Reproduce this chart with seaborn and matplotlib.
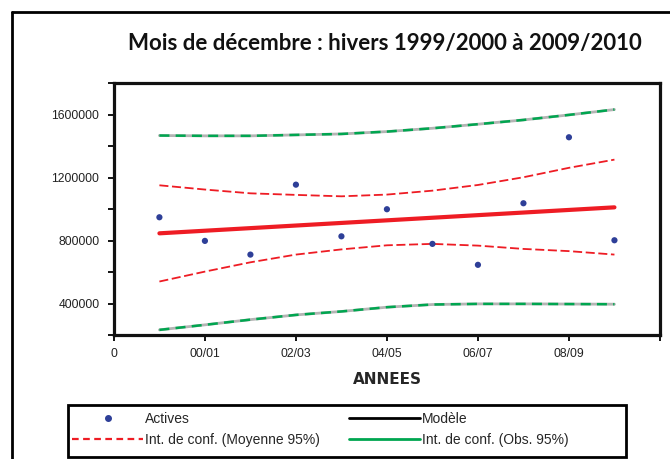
import numpy as np
import pandas as pd
import seaborn as sns
import matplotlib.pyplot as plt
from matplotlib.lines import Line2D
from matplotlib.patches import Rectangle

# winters 1999/2000 .. 2009/2010 -> positions 1..11
hiver = [1, 2, 3, 4, 5, 6, 7, 8, 9, 10, 11]
actives = [948000, 798000, 711000, 1155000, 827000, 999000, 779000, 646000, 1037000, 1456000, 802000]
modele = [846000, 862500, 879000, 895500, 912000, 928500, 945000, 961500, 978000, 994500, 1011000]
moy_haut = [1151000, 1124000, 1100000, 1090000, 1081000, 1092000, 1117000, 1153000, 1202000, 1262000, 1314000]
moy_bas = [540000, 603000, 662000, 711000, 744000, 770000, 779000, 768000, 747000, 733000, 711000]
obs_haut = [1467000, 1465000, 1465000, 1471000, 1477000, 1492000, 1513000, 1539000, 1566000, 1598000, 1632000]
obs_bas = [233000, 265000, 298000, 328000, 350000, 377000, 394000, 398000, 398000, 397000, 396000]

xticks = [0, 2, 4, 6, 8, 10, 12]
xlabels = ["0", "00/01", "02/03", "04/05", "06/07", "08/09", ""]

df = pd.DataFrame({"hiver": hiver, "actives": actives, "modele": modele,
                   "moy_haut": moy_haut, "moy_bas": moy_bas,
                   "obs_haut": obs_haut, "obs_bas": obs_bas})

sns.set_style("white")
plt.rcParams["font.family"] = ["Liberation Sans", "DejaVu Sans"]

rouge = "#ee1c24"
vert = "#00a650"
bleu = "#2e3f98"

fig = plt.figure(figsize=(6.7, 4.59), dpi=100)
ax = fig.add_axes([0.170, 0.270, 0.815, 0.549])

# obs 95% : grey line under green dashes
for col in ["obs_haut", "obs_bas"]:
    sns.lineplot(data=df, x="hiver", y=col, ax=ax, color="#b4b4b4", lw=2.0)
    sns.lineplot(data=df, x="hiver", y=col, ax=ax, color=vert, lw=1.8,
                 linestyle=(0, (4, 2.5)))
for col in ["moy_haut", "moy_bas"]:
    sns.lineplot(data=df, x="hiver", y=col, ax=ax, color=rouge, lw=1.3,
                 linestyle=(0, (5, 2)))
sns.lineplot(data=df, x="hiver", y="modele", ax=ax, color=rouge, lw=3.0)
sns.scatterplot(data=df, x="hiver", y="actives", ax=ax, color=bleu, s=20,
                edgecolor="none", zorder=5)

ax.set_xlim(0, 12)
ax.set_ylim(200000, 1800000)
ax.set_xticks(xticks)
ax.set_xticklabels(xlabels)
ax.set_yticks(np.arange(200000, 1800001, 200000))
ax.set_yticklabels(["" if v % 400000 else str(v) for v in range(200000, 1800001, 200000)])
ax.tick_params(axis="both", direction="out", length=4, width=1.3, color="black",
               labelsize=8.7, labelcolor="#222222", left=True, bottom=True)
ax.tick_params(axis="y", pad=6.5)
ax.tick_params(axis="x", pad=5)
for s in ax.spines.values():
    s.set_visible(True)
    s.set_color("#111111")
    s.set_linewidth(2.3)
ax.set_xlabel("ANNEES", fontsize=11, fontweight="bold", labelpad=9,
              family=["DejaVu Sans"])
ax.set_ylabel("")

fig.text(0.575, 0.906, "Mois de décembre : hivers 1999/2000 à 2009/2010",
         ha="center", va="center", fontsize=16, fontweight="bold",
         family=["Lato", "DejaVu Sans"], color="#111111")

# outer frame (left and top only visible)
fig.add_artist(Line2D([12 / 670, 12 / 670], [0, 1 - 12 / 459], transform=fig.transFigure,
                      color="black", lw=2))
fig.add_artist(Line2D([12 / 670, 1], [1 - 12 / 459, 1 - 12 / 459], transform=fig.transFigure,
                      color="black", lw=2))

handles = [
    Line2D([], [], ls="none", marker="o", ms=4, color=bleu),
    Line2D([], [], color=rouge, lw=1.6, ls=(0, (3, 2))),
    Line2D([], [], color="black", lw=2),
    Line2D([], [], color=vert, lw=2),
]
labels = ["Actives", "Int. de conf. (Moyenne 95%)", "Modèle", "Int. de conf. (Obs. 95%)"]
leg = fig.legend(handles, labels, ncol=2, loc="upper left",
                 bbox_to_anchor=(70 / 670, 1 - 410 / 459),
                 fontsize=10, handlelength=5.1, handletextpad=0.15,
                 columnspacing=2.1, labelspacing=0.5, borderpad=0.15,
                 frameon=False, borderaxespad=0)
# legend box drawn separately so it can be wider than its entries
fig.add_artist(Rectangle((68 / 670, 1 - 457 / 459), (626 - 68) / 670, (457 - 405) / 459,
                         transform=fig.transFigure, fill=False, edgecolor="black", lw=2))

fig.savefig("out.png", dpi=100)
